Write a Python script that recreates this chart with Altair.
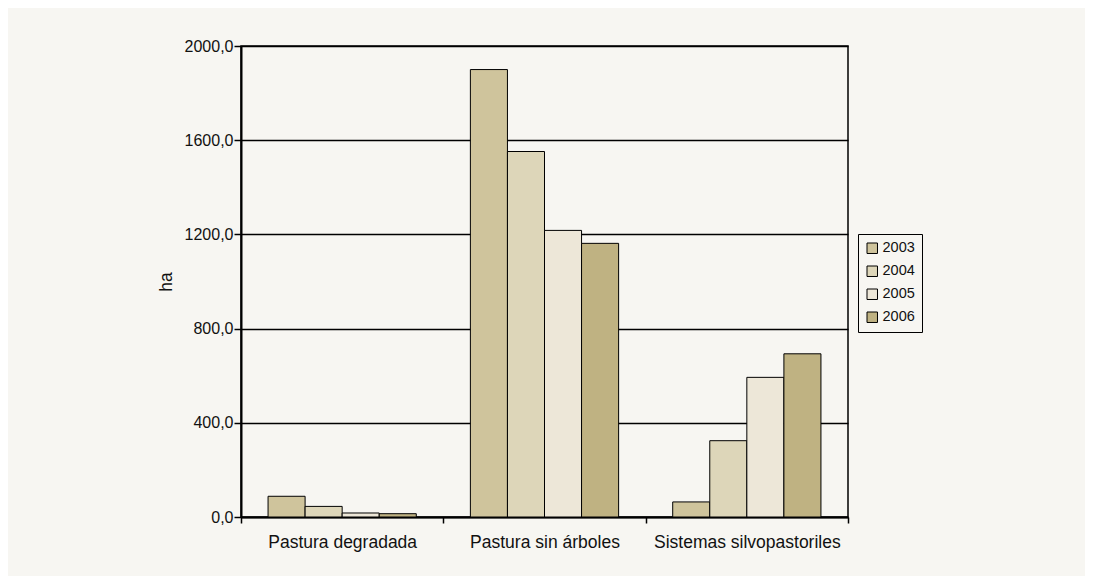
import altair as alt
import pandas as pd

categories = ["Pastura degradada", "Pastura sin árboles", "Sistemas silvopastoriles"]
years = ["2003", "2004", "2005", "2006"]
v2003 = [88, 1900, 64]
v2004 = [45, 1552, 324]
v2005 = [17, 1217, 593]
v2006 = [14, 1162, 693]
colors = ["#cfc49c", "#ddd6b9", "#ede7d8", "#bfb282"]
y_ticks = [0, 400, 800, 1200, 1600, 2000]

series = {"2003": v2003, "2004": v2004, "2005": v2005, "2006": v2006}
rows = []
for y in years:
    for c, v in zip(categories, series[y]):
        rows.append({"cat": c, "year": y, "ha": v})
df = pd.DataFrame(rows)

FONT = "Liberation Sans"

chart = alt.Chart(df).mark_bar(stroke="black", strokeWidth=1).encode(
    x=alt.X("cat:N", sort=categories, title=None,
            scale=alt.Scale(paddingInner=0, paddingOuter=0),
            axis=alt.Axis(labelAngle=0, tickBand="extent", domainColor="black", domainWidth=2,
                          tickColor="black", tickWidth=1.5, tickSize=6, labelFontSize=17.5,
                          labelFont=FONT, labelColor="#111111", labelPadding=10,
                          labelLimit=400, labelOverlap=False)),
    xOffset=alt.XOffset("year:N", sort=years,
                        scale=alt.Scale(paddingInner=0, paddingOuter=0.73)),
    y=alt.Y("ha:Q", title="ha",
            scale=alt.Scale(domain=[0, 2000], nice=False),
            axis=alt.Axis(values=y_ticks,
                          labelExpr="replace(format(datum.value, '.1f'), '.', ',')",
                          grid=True, gridColor="black", gridWidth=1.5, gridOpacity=1,
                          domainColor="black", domainWidth=2, tickColor="black",
                          tickWidth=1.5, tickSize=7, labelFontSize=16, labelFont=FONT,
                          labelColor="#111111", labelPadding=1, titleFont=FONT,
                          titleFontSize=17.5, titleFontWeight="normal", titleColor="#111111",
                          titlePadding=9)),
    color=alt.Color("year:N", sort=years, title=None,
                    scale=alt.Scale(domain=years, range=colors),
                    legend=alt.Legend(orient="none", legendX=617, legendY=188,
                                      strokeColor="black", padding=7,
                                      fillColor="#f7f6f2",
                                      symbolType="square", symbolSize=110,
                                      symbolStrokeColor="black", symbolStrokeWidth=1,
                                      symbolOpacity=1,
                                      labelFontSize=14.5, labelFont=FONT, labelColor="#111111",
                                      rowPadding=7, labelOffset=3)),
).properties(
    width=607, height=471,
    background="#f7f6f2",
    padding={"left": 233, "top": 38, "right": 237, "bottom": 59},
    autosize=alt.AutoSizeParams(type="none"),
).configure_view(stroke="black", strokeWidth=1.5)

chart.save("out.html", embed_options={"renderer": "svg", "actions": False})
